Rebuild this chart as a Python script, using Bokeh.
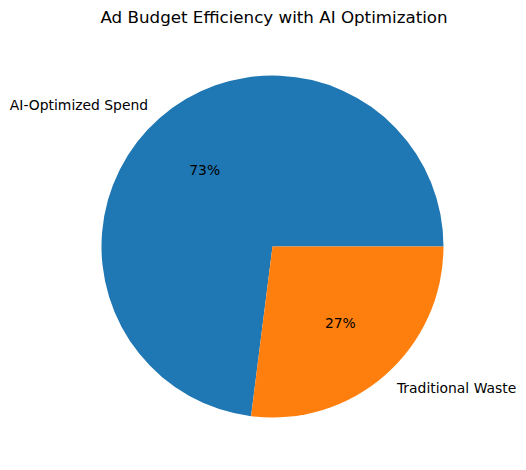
import numpy as np
from bokeh.plotting import figure
from bokeh.models import Range1d, ColumnDataSource
from bokeh.core.properties import value
from bokeh.embed import file_html
from bokeh.resources import INLINE

# data
labels = ["AI-Optimized Spend", "Traditional Waste"]
values = [73, 27]
colors = ["#1f77b4", "#ff7f0e"]

W, H = 526, 470
R_PX = 171.0
CX, CY = 272.0, 246.0   # pie center in figure pixels (from top-left)
T = 30.0                 # title height

p = figure(width=W, height=H, output_backend="svg", toolbar_location=None,
           x_range=Range1d(-CX / R_PX, (W - CX) / R_PX),
           y_range=Range1d(-(H - CY) / R_PX, (CY - T) / R_PX),
           min_border=0, title="Ad Budget Efficiency with AI Optimization")
p.axis.visible = False
p.grid.visible = False
p.outline_line_color = None
p.title.align = "left"
p.title.offset = 100
p.title.text_font = "DejaVu Sans"
p.title.text_font_size = "16.7px"
p.title.text_font_style = "normal"
p.title.text_color = "black"
p.title.standoff = 8

vals = np.array(values, dtype=float)
frac = vals / vals.sum()
ends = np.cumsum(frac) * 2 * np.pi
starts = ends - frac * 2 * np.pi
mids = (starts + ends) / 2

src = ColumnDataSource(dict(start=starts, end=ends, color=colors))
p.wedge(x=0, y=0, radius=1.0, start_angle="start", end_angle="end",
        fill_color="color", line_color=None, source=src)

lx = 1.1 * np.cos(mids)
ly = 1.1 * np.sin(mids)
align = ["left" if x > 0 else "right" for x in lx]
lsrc = ColumnDataSource(dict(x=lx, y=ly, text=labels, align=align))
p.text(x="x", y="y", text="text", text_align="align", text_baseline="middle",
       text_font=value("DejaVu Sans"), text_font_size="13.9px", text_color="black",
       source=lsrc)

pct = ["%d%%" % round(f * 100) for f in frac]
psrc = ColumnDataSource(dict(x=0.6 * np.cos(mids), y=0.6 * np.sin(mids), text=pct))
p.text(x="x", y="y", text="text", text_align="center", text_baseline="middle",
       text_font=value("DejaVu Sans"), text_font_size="13.9px", text_color="black",
       source=psrc)

open("out.html", "w").write(file_html(p, INLINE))
